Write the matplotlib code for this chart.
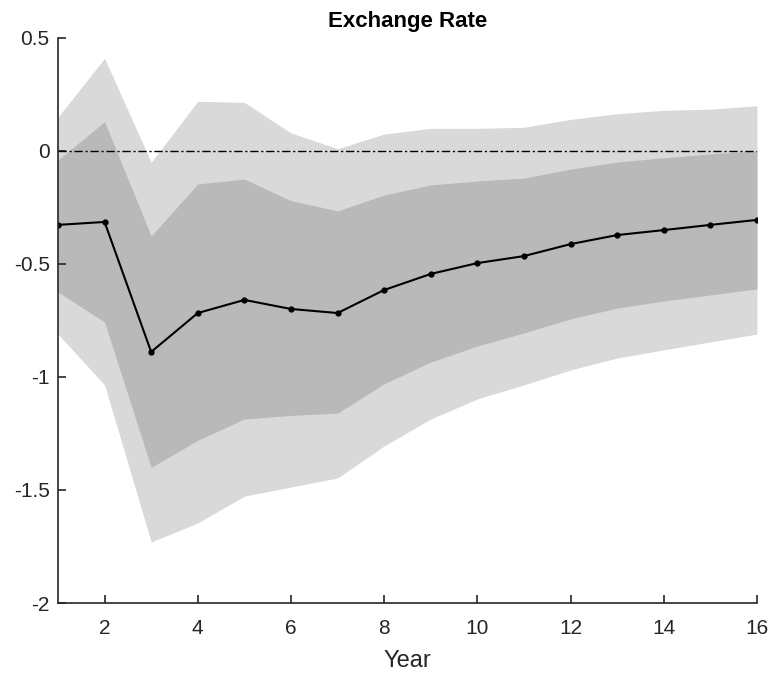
import matplotlib
matplotlib.use("Agg")
import matplotlib.pyplot as plt
import numpy as np

plt.rcParams['font.family'] = ['Liberation Sans', 'DejaVu Sans']

years = list(range(1, 17))
median = [-0.327, -0.314, -0.889, -0.717, -0.659, -0.699, -0.717, -0.615,
          -0.544, -0.496, -0.465, -0.412, -0.372, -0.350, -0.327, -0.305]
outer_upper = [0.15, 0.41, -0.05, 0.22, 0.215, 0.08, 0.01, 0.075,
               0.10, 0.10, 0.105, 0.14, 0.165, 0.18, 0.185, 0.20]
inner_upper = [-0.04, 0.13, -0.376, -0.146, -0.124, -0.22, -0.265, -0.195,
               -0.15, -0.133, -0.12, -0.08, -0.049, -0.03, -0.013, 0.0]
inner_lower = [-0.624, -0.757, -1.40, -1.28, -1.186, -1.17, -1.16, -1.03,
               -0.934, -0.863, -0.805, -0.743, -0.695, -0.664, -0.637, -0.61]
outer_lower = [-0.81, -1.035, -1.73, -1.646, -1.527, -1.487, -1.447, -1.305,
               -1.186, -1.097, -1.035, -0.969, -0.916, -0.88, -0.845, -0.81]

fig = plt.figure(figsize=(7.74, 6.77), dpi=100)
ax = fig.add_axes([0.0749, 0.1093, 0.9031, 0.8346])

ax.fill_between(years, outer_lower, outer_upper, color='#d9d9d9', linewidth=0)
ax.fill_between(years, inner_lower, inner_upper, color='#b9b9b9', linewidth=0)
ax.axhline(0, color='black', linestyle=(0, (6, 2, 1.5, 2)), linewidth=1.0)
ax.plot(years, median, color='black', linewidth=1.5, marker='o', markersize=3.5)

ax.set_xlim(1, 16)
ax.set_ylim(-2, 0.5)
ax.set_xticks([2, 4, 6, 8, 10, 12, 14, 16])
ax.set_yticks([-2, -1.5, -1, -0.5, 0, 0.5])
ax.set_yticklabels(['-2', '-1.5', '-1', '-0.5', '0', '0.5'])
for s in ['top', 'right']:
    ax.spines[s].set_visible(False)
for s in ['left', 'bottom']:
    ax.spines[s].set_color('#262626')
    ax.spines[s].set_linewidth(1.2)
ax.tick_params(axis='x', direction='in', length=6, width=1.2, labelsize=15,
               colors='#262626', pad=11.5)
ax.tick_params(axis='y', direction='in', length=6, width=1.2, labelsize=15,
               colors='#262626', pad=6)
ax.set_xlabel('Year', fontsize=17, color='#262626', labelpad=9)
ax.set_title('Exchange Rate', fontsize=16, fontweight='bold', pad=8)

fig.savefig('out.png', dpi=100)
